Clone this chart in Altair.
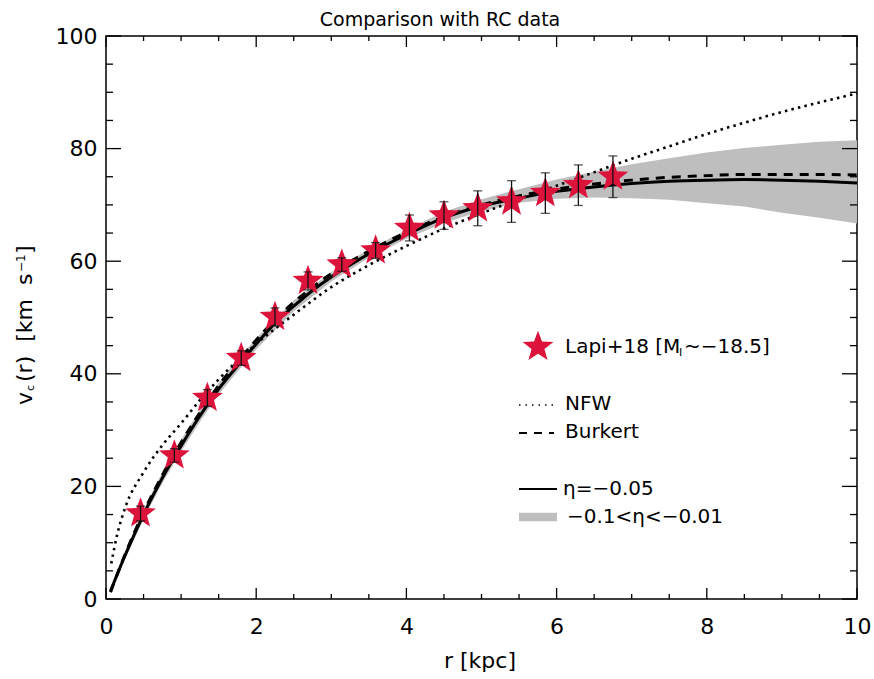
import altair as alt
import pandas as pd

# ---------------- data ----------------
r_obs = [0.46, 0.91, 1.35, 1.80, 2.25, 2.69, 3.14, 3.59, 4.04, 4.50, 4.95, 5.40, 5.85, 6.29, 6.75]
v_obs = [15.2, 25.5, 35.7, 42.8, 50.1, 56.5, 59.4, 61.9, 65.9, 68.1, 69.4, 70.6, 72.1, 73.5, 75.0]
v_err = [1.3, 1.2, 1.5, 1.3, 1.6, 1.6, 1.2, 1.4, 2.3, 2.45, 3.1, 3.7, 3.6, 3.6, 3.7]

r_model = [0.06, 0.25, 0.5, 0.75, 1.0, 1.25, 1.5, 1.75, 2.0, 2.25, 2.5, 2.75, 3.0, 3.5, 4.0,
           4.5, 5.0, 5.5, 6.0, 6.5, 7.0, 7.5, 8.0, 8.5, 9.0, 9.5, 10.0]
v_eta = [1.4, 7.6, 15.0, 21.5, 27.2, 32.5, 37.3, 41.4, 45.3, 49.0, 52.0, 54.8, 57.2, 61.3, 64.7,
         67.7, 69.8, 71.2, 72.4, 73.2, 73.8, 74.2, 74.4, 74.5, 74.4, 74.2, 73.9]
v_burkert = [1.2, 7.8, 15.4, 22.0, 27.8, 33.1, 37.9, 42.1, 46.0, 49.6, 52.7, 55.4, 57.8, 61.8, 65.1,
             67.9, 70.0, 71.6, 72.8, 73.7, 74.4, 74.9, 75.2, 75.4, 75.4, 75.4, 75.3]

r_nfw = [0.07, 0.15, 0.25, 0.5, 0.75, 1.0, 1.25, 1.5, 2.0, 2.5, 3.0, 3.5, 4.0, 4.5, 5.0,
         5.5, 6.0, 6.5, 7.0, 7.5, 8.0, 8.5, 9.0, 9.5, 10.0]
v_nfw = [6.3, 11.5, 16.0, 22.5, 27.3, 31.2, 35.3, 39.0, 45.3, 50.5, 55.4, 59.3, 62.7, 65.8, 68.5,
         71.0, 73.4, 75.8, 78.2, 80.4, 82.6, 84.6, 86.5, 88.2, 89.8]

r_band = [0.25, 0.5, 0.75, 1.0, 1.25, 1.5, 1.75, 2.0, 2.5, 3.0, 3.5, 4.0, 4.5, 5.0, 5.5,
          6.0, 6.5, 7.0, 7.5, 8.0, 8.5, 9.0, 9.5, 10.0]
v_band_lo = [7.0, 14.2, 20.6, 26.2, 31.5, 36.3, 40.4, 44.3, 51.1, 56.4, 60.6, 64.0, 66.8, 68.9, 70.4,
             71.1, 71.3, 71.2, 70.9, 70.3, 69.7, 68.6, 67.7, 66.7]
v_band_hi = [8.3, 15.9, 22.5, 28.3, 33.6, 38.4, 42.5, 46.3, 53.0, 58.1, 62.1, 65.6, 68.8, 71.0, 72.8,
             74.5, 75.9, 77.2, 78.3, 79.3, 80.1, 80.7, 81.2, 81.5]

x_major = [0, 2, 4, 6, 8, 10]
x_minor = [0.5, 1, 1.5, 2.5, 3, 3.5, 4.5, 5, 5.5, 6.5, 7, 7.5, 8.5, 9, 9.5]
y_major = [0, 20, 40, 60, 80, 100]
y_minor = [5, 10, 15, 25, 30, 35, 45, 50, 55, 65, 70, 75, 85, 90, 95]

# ---------------- layout ----------------
W, H = 751, 563
FONT = "DejaVu Sans"
STAR = "#DC143C"
STAR_PATH = ("M0,-1L0.2469,-0.3398L0.9511,-0.309L0.3994,0.1298L0.5878,0.809L0,0.42"
             "L-0.5878,0.809L-0.3994,0.1298L-0.9511,-0.309L-0.2469,-0.3398Z")
STAR_SIZE = 1050
NB = "\u00a0"
xs = alt.Scale(domain=[0, 10], nice=False, zero=False)
ys = alt.Scale(domain=[0, 100], nice=False, zero=False)

AX = alt.Axis(values=x_major, ticks=False, domain=False, grid=False, labelFontSize=22,
              labelFont=FONT, labelColor="black", labelPadding=17, labelFlush=False, title=None)
AY = alt.Axis(values=y_major, ticks=False, domain=False, grid=False, labelFontSize=22,
              labelFont=FONT, labelColor="black", labelPadding=9, labelFlush=False, title=None)


def X(field):
    return alt.X(field, scale=xs, axis=AX)


def Y(field):
    return alt.Y(field, scale=ys, axis=AY)


obs = pd.DataFrame({"r": r_obs, "v": v_obs, "err": v_err})
obs["lo"] = obs["v"] - obs["err"]
obs["hi"] = obs["v"] + obs["err"]
model = pd.DataFrame({"r": r_model, "eta": v_eta, "bur": v_burkert})
nfw = pd.DataFrame({"r": r_nfw, "v": v_nfw})
band = pd.DataFrame({"r": r_band, "lo": v_band_lo, "hi": v_band_hi})
dummy = pd.DataFrame({"k": [0]})

band_layer = alt.Chart(band).mark_area(color="#BEBEBE", opacity=1).encode(
    x=X("r:Q"), y=Y("lo:Q"), y2="hi:Q")

nfw_layer = alt.Chart(nfw).mark_line(color="black", strokeWidth=2.6, strokeDash=[2.5, 4.2],
                                     interpolate="monotone").encode(x=X("r:Q"), y=Y("v:Q"))
bur_layer = alt.Chart(model).mark_line(color="black", strokeWidth=3, strokeDash=[9, 7],
                                       interpolate="monotone").encode(x=X("r:Q"), y=Y("bur:Q"))
eta_layer = alt.Chart(model).mark_line(color="black", strokeWidth=3,
                                       interpolate="monotone").encode(x=X("r:Q"), y=Y("eta:Q"))

stars = alt.Chart(obs).mark_point(shape=STAR_PATH, filled=True, size=STAR_SIZE, color=STAR,
                                  opacity=1, strokeWidth=0).encode(x=X("r:Q"), y=Y("v:Q"))
ebar = alt.Chart(obs).mark_rule(color="#111111", strokeWidth=1.3).encode(
    x=X("r:Q"), y=Y("lo:Q"), y2="hi:Q")
cap_lo = alt.Chart(obs).mark_tick(color="#111111", orient="horizontal", size=9,
                                  thickness=1.3).encode(x=X("r:Q"), y=Y("lo:Q"))
cap_hi = alt.Chart(obs).mark_tick(color="#111111", orient="horizontal", size=9,
                                  thickness=1.3).encode(x=X("r:Q"), y=Y("hi:Q"))


# ---------------- inward ticks on all four sides ----------------
def yticks(vals, length):
    d = pd.DataFrame({"v": vals})
    left = alt.Chart(d).mark_rule(color="black", strokeWidth=1.3).encode(
        y=Y("v:Q"), x=alt.value(0), x2=alt.value(length))
    right = alt.Chart(d).mark_rule(color="black", strokeWidth=1.3).encode(
        y=Y("v:Q"), x=alt.value(W - length), x2=alt.value(W))
    return [left, right]


def xticks(vals, length):
    d = pd.DataFrame({"r": vals})
    bottom = alt.Chart(d).mark_rule(color="black", strokeWidth=1.3).encode(
        x=X("r:Q"), y=alt.value(H - length), y2=alt.value(H))
    top = alt.Chart(d).mark_rule(color="black", strokeWidth=1.3).encode(
        x=X("r:Q"), y=alt.value(0), y2=alt.value(length))
    return [bottom, top]


ticks = yticks(y_major, 15) + yticks(y_minor, 7) + xticks(x_major, 11) + xticks(x_minor, 5)


# ---------------- texts ----------------
def txt(s, x, y, size, angle=0, align="left", baseline="alphabetic"):
    kw = dict(text=s, font=FONT, fontSize=size, color="black", align=align, baseline=baseline)
    if angle:
        kw["angle"] = angle
    return alt.Chart(dummy).mark_text(**kw).encode(x=alt.value(x), y=alt.value(y))


texts = [
    txt("Comparison with RC data", 334, -10, 19, align="center"),
    txt("r" + NB + "[kpc]", 374, 632, 22, align="center"),
    # y title pieces (rotated)
    txt("v", -74, 369, 22, angle=270),
    txt("c", -72, 355, 11, angle=270),
    txt("(r)" + NB + NB + "[km" + NB + NB + "s", -74, 346, 22, angle=270),
    txt("−1", -81, 236, 12, angle=270),
    txt("]", -74, 218, 22, angle=270),
    # legend texts
    txt("Lapi+18" + NB + "[M", 459, 317, 20),
    txt("I", 573, 320, 11),
    txt("~−18.5]", 578, 317, 20),
    txt("NFW", 459, 374, 20),
    txt("Burkert", 459, 402, 20),
    txt("η=−0.05", 457, 459, 20),
    txt("−0.1<η<−0.01", 461, 487, 20),
]

legend = [
    alt.Chart(dummy).mark_point(shape=STAR_PATH, filled=True, size=STAR_SIZE, color=STAR,
                                opacity=1, strokeWidth=0).encode(x=alt.value(432), y=alt.value(311)),
    alt.Chart(dummy).mark_rule(color="black", strokeWidth=1.5, strokeDash=[1.5, 5]).encode(
        x=alt.value(413), x2=alt.value(448), y=alt.value(369)),
    alt.Chart(dummy).mark_rule(color="black", strokeWidth=2, strokeDash=[8, 7]).encode(
        x=alt.value(413), x2=alt.value(448), y=alt.value(397)),
    alt.Chart(dummy).mark_rule(color="black", strokeWidth=2).encode(
        x=alt.value(413), x2=alt.value(451), y=alt.value(453)),
    alt.Chart(dummy).mark_rule(color="#BEBEBE", strokeWidth=8.5).encode(
        x=alt.value(413), x2=alt.value(451), y=alt.value(481)),
]

chart = alt.layer(
    band_layer, nfw_layer, bur_layer, eta_layer, stars, ebar, cap_lo, cap_hi,
    *ticks, *legend, *texts
).properties(
    width=W, height=H,
    autosize=alt.AutoSizeParams(type="none"),
    padding={"left": 106, "top": 36, "right": 17, "bottom": 80},
    background="white",
).configure_view(
    stroke="black", strokeWidth=1.5
)

chart.save("out.html", embed_options={"renderer": "svg", "actions": False})
